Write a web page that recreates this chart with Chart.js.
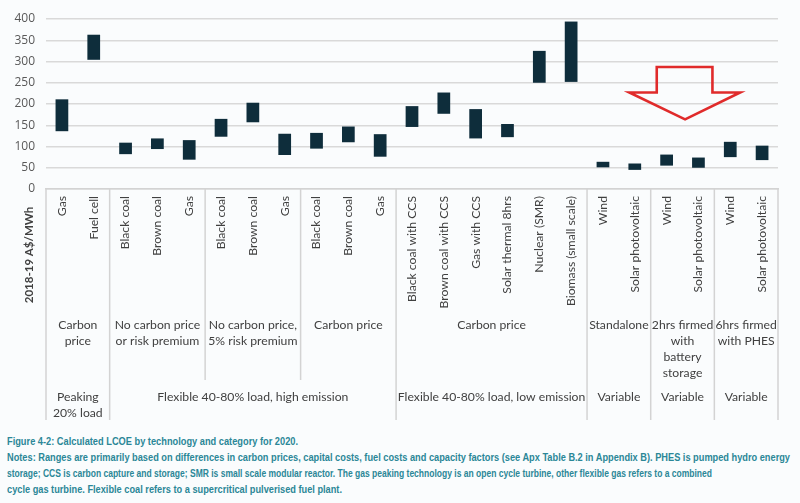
<!DOCTYPE html>
<html>
<head>
<meta charset="utf-8">
<script src="https://cdn.jsdelivr.net/npm/chart.js@4.4.0/dist/chart.umd.min.js"></script>
<style>
  html, body { margin: 0; padding: 0; background: #fafcfd; }
  #wrap { position: relative; width: 800px; height: 503px; overflow: hidden; }
  #chartBox { position: absolute; left: 0; top: 0; width: 800px; height: 430px; }
  #caption { position: absolute; left: 7px; top: 433px; font-family: "Liberation Sans", Arial, sans-serif;
    font-weight: bold; font-size: 11px; line-height: 16px; color: #2b8797; white-space: nowrap; }
  #caption span { display: inline-block; transform-origin: 0 50%; }
</style>
</head>
<body>
<div id="wrap">
  <div id="chartBox"><canvas id="c"></canvas></div>
  <div id="caption">
    <div><span data-w="291">Figure 4-2: Calculated LCOE by technology and category for 2020.</span></div>
    <div><span data-w="783">Notes: Ranges are primarily based on differences in carbon prices, capital costs, fuel costs and capacity factors (see Apx Table B.2 in Appendix B). PHES is pumped hydro energy</span></div>
    <div><span data-w="705">storage; CCS is carbon capture and storage; SMR is small scale modular reactor. The gas peaking technology is an open cycle turbine, other flexible gas refers to a combined</span></div>
    <div><span data-w="335">cycle gas turbine. Flexible coal refers to a supercritical pulverised fuel plant.</span></div>
  </div>
</div>
<script>
// ---- Data ----
const categories = [
  "Gas", "Fuel cell",
  "Black coal", "Brown coal", "Gas",
  "Black coal", "Brown coal", "Gas",
  "Black coal", "Brown coal", "Gas",
  "Black coal with CCS", "Brown coal with CCS", "Gas with CCS", "Solar thermal 8hrs", "Nuclear (SMR)", "Biomass (small scale)",
  "Wind", "Solar photovoltaic",
  "Wind", "Solar photovoltaic",
  "Wind", "Solar photovoltaic"
];
const lcoeLow  = [136, 304, 82, 94, 69, 123, 157, 80, 95, 110, 76, 146, 177, 119, 122, 250, 252, 51, 45, 55, 50, 75, 68];
const lcoeHigh = [211, 363, 109, 119, 115, 165, 203, 130, 132, 147, 129, 195, 227, 188, 153, 325, 394, 64, 60, 81, 74, 111, 102];
const yTicks = [0, 50, 100, 150, 200, 250, 300, 350, 400];

// Sub-category groups (second label row)
const subGroupStart = [0, 2, 5, 8, 11, 17, 19, 21];
const subGroupEnd   = [1, 4, 7, 10, 16, 18, 20, 22];
const subGroupLabels = [
  ["Carbon", "price"],
  ["No carbon price", "or risk premium"],
  ["No carbon price,", "5% risk premium"],
  ["Carbon price"],
  ["Carbon price"],
  ["Standalone"],
  ["2hrs firmed", "with", "battery", "storage"],
  ["6hrs firmed", "with PHES"]
];
// Main groups (third label row)
const mainGroupStart = [0, 2, 11, 17, 19, 21];
const mainGroupEnd   = [1, 10, 16, 18, 20, 22];
const mainGroupLabels = [
  ["Peaking", "20% load"],
  ["Flexible 40-80% load, high emission"],
  ["Flexible 40-80% load, low emission"],
  ["Variable"],
  ["Variable"],
  ["Variable"]
];
const yTitle = "2018-19 A$/MWh";
// Annotation arrow in data units (category index, LCOE value)
const arrowX = { wingL: 17.83, bodyL: 18.69, tip: 19.58, bodyR: 20.44, wingR: 21.31 };
const arrowY = { top: 287, shoulder: 227, tip: 164 };

// fit caption lines to the reference widths
document.querySelectorAll("#caption span").forEach(s => {
  const w = s.getBoundingClientRect().width;
  const target = +s.dataset.w;
  if (w > 0) s.style.transform = "scaleX(" + (target / w) + ")";
});

const TEXT = "#404040";
const SEP = "#d3d3d3";
const LABEL_FONT = "Lato, 'Open Sans', sans-serif";

const decorPlugin = {
  id: "decor",
  afterDraw(chart) {
    const ctx = chart.ctx;
    const x = chart.scales.x, y = chart.scales.y;
    const area = chart.chartArea;
    const half = (x.getPixelForValue(1) - x.getPixelForValue(0)) / 2;
    const leftOf = i => x.getPixelForValue(i) - half;
    const rightOf = i => x.getPixelForValue(i) + half;
    const base = area.bottom;
    ctx.save();
    // separators
    ctx.strokeStyle = SEP; ctx.lineWidth = 1.5;
    const mainBounds = new Set(mainGroupStart); mainBounds.add(categories.length);
    const allBounds = new Set(subGroupStart); allBounds.add(categories.length);
    allBounds.forEach(b => {
      const px = b === 0 ? area.left : (b === categories.length ? area.right : leftOf(b));
      const len = mainBounds.has(b) ? 231 : 191;
      ctx.beginPath(); ctx.moveTo(px, base); ctx.lineTo(px, base + len); ctx.stroke();
    });
    // group labels
    ctx.fillStyle = TEXT;
    ctx.font = "12.2px " + LABEL_FONT;
    ctx.textAlign = "center"; ctx.textBaseline = "middle";
    subGroupLabels.forEach((lines, g) => {
      const cx = (leftOf(subGroupStart[g]) + rightOf(subGroupEnd[g])) / 2;
      lines.forEach((t, k) => ctx.fillText(t, cx, base + 136.5 + k * 15.7));
    });
    mainGroupLabels.forEach((lines, g) => {
      const cx = (leftOf(mainGroupStart[g]) + rightOf(mainGroupEnd[g])) / 2;
      lines.forEach((t, k) => ctx.fillText(t, cx, base + 208.5 + k * 16));
    });
    // y title
    ctx.save();
    ctx.translate(29, 255);
    ctx.rotate(-Math.PI / 2);
    ctx.font = "bold 11.5px " + LABEL_FONT;
    ctx.fillStyle = TEXT;
    ctx.fillText(yTitle, 0, 0);
    ctx.restore();
    // arrow
    const px = v => x.getPixelForValue(v), py = v => y.getPixelForValue(v);
    ctx.strokeStyle = "#e02b2b"; ctx.lineWidth = 2.6; ctx.lineJoin = "miter";
    ctx.beginPath();
    ctx.moveTo(px(arrowX.bodyL), py(arrowY.top));
    ctx.lineTo(px(arrowX.bodyR), py(arrowY.top));
    ctx.lineTo(px(arrowX.bodyR), py(arrowY.shoulder));
    ctx.lineTo(px(arrowX.wingR), py(arrowY.shoulder));
    ctx.lineTo(px(arrowX.tip), py(arrowY.tip));
    ctx.lineTo(px(arrowX.wingL), py(arrowY.shoulder));
    ctx.lineTo(px(arrowX.bodyL), py(arrowY.shoulder));
    ctx.closePath();
    ctx.stroke();
    ctx.restore();
  }
};

new Chart(document.getElementById("c"), {
  type: "bar",
  data: {
    labels: categories,
    datasets: [{
      data: lcoeLow.map((lo, i) => [lo, lcoeHigh[i]]),
      backgroundColor: "#0e2d3b",
      borderWidth: 0,
      borderSkipped: false,
      barPercentage: 0.4,
      categoryPercentage: 1.0
    }]
  },
  options: {
    responsive: true,
    maintainAspectRatio: false,
    animation: false,
    layout: { padding: { top: 19, left: 0, right: 22, bottom: 0 } },
    plugins: { legend: { display: false }, tooltip: { enabled: false } },
    scales: {
      x: {
        grid: { display: false, drawTicks: false },
        border: { display: true, color: SEP, width: 1.5 },
        ticks: {
          autoSkip: false, maxRotation: 90, minRotation: 90, padding: 7,
          color: TEXT, font: { family: LABEL_FONT, size: 12.2 }
        },
        afterFit(scale) { scale.height = 241; }
      },
      y: {
        min: 0, max: 400,
        afterBuildTicks(scale) { scale.ticks = yTicks.map(v => ({ value: v })); },
        grid: { color: "#d9d9d9", lineWidth: 1.5, drawTicks: false },
        border: { display: false },
        ticks: { padding: 11, color: "#595959", font: { family: "'Open Sans', sans-serif", size: 12 } },
        afterFit(scale) { scale.width = 46; }
      }
    }
  },
  plugins: [decorPlugin]
});
</script>
</body>
</html>
